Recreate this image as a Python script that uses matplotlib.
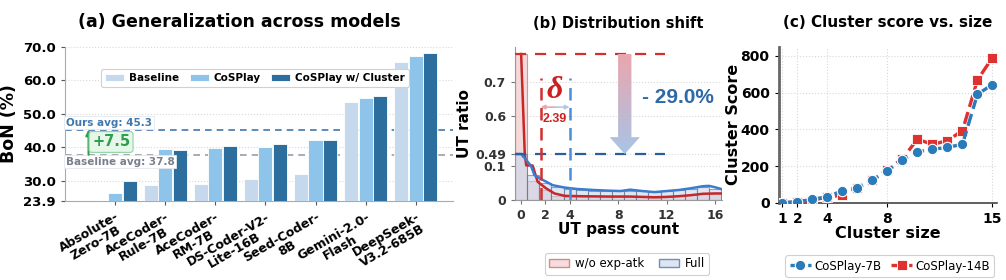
import matplotlib

matplotlib.use("Agg")
import matplotlib.pyplot as plt  # noqa: E402
import numpy as np  # noqa: E402
from matplotlib.colors import LinearSegmentedColormap  # noqa: E402
from matplotlib.patches import Patch, Polygon  # noqa: E402

plt.rcParams.update({
    "font.family": "DejaVu Sans",
    "axes.spines.top": False,
    "axes.spines.right": False,
})

# ---- (a) generalization across models ----
models = ["Absolute-\nZero-7B", "AceCoder-\nRule-7B", "AceCoder-\nRM-7B",
          "DS-Coder-V2-\nLite-16B", "Seed-Coder-\n8B", "Gemini-2.0-\nFlash",
          "DeepSeek-\nV3.2-685B"]
baseline = [24.2, 28.7, 29.0, 30.5, 32.0, 53.6, 65.6]
cosplay = [26.5, 39.5, 39.8, 40.0, 42.1, 54.7, 67.3]
cosplay_cluster = [29.9, 39.2, 40.3, 41.0, 42.1, 55.2, 68.1]
baseline_avg = 37.8
ours_avg = 45.3
a_yticks = [23.9, 30, 40, 50, 60, 70]

# ---- (b) distribution shift ----
bins = np.arange(17)
hist_full = [0.49, 0.072, 0.048, 0.038, 0.031, 0.028, 0.027, 0.026, 0.025,
             0.027, 0.025, 0.023, 0.025, 0.028, 0.033, 0.038, 0.032]
hist_woexp = [0.78, 0.055, 0.028, 0.013, 0.010, 0.010, 0.009, 0.009, 0.009,
              0.009, 0.008, 0.007, 0.009, 0.011, 0.014, 0.018, 0.018]
full_x = [-0.5, 0.0, 0.8, 1.1, 1.8, 2.6, 3.6, 4.6, 6, 7.3, 8.2, 9, 10, 11,
          12, 13, 14, 15, 15.5, 16, 16.6]
full_y = [0.49, 0.49, 0.10, 0.072, 0.058, 0.043, 0.036, 0.032, 0.029, 0.027,
          0.026, 0.030, 0.026, 0.023, 0.026, 0.029, 0.034, 0.040, 0.041,
          0.037, 0.031]
wo_x = [0, 0.3, 0.42, 0.95, 1.36, 2.05, 2.75, 3.6, 5, 7.3, 9, 11, 12, 13,
        14, 15, 16, 16.6]
wo_y = [0.78, 0.49, 0.105, 0.10, 0.053, 0.034, 0.019, 0.012, 0.011, 0.010,
        0.010, 0.008, 0.009, 0.011, 0.014, 0.018, 0.019, 0.019]
peak_wo, peak_full = 0.78, 0.49
mean_wo, mean_full = 1.61, 4.0
b_yticks = [0, 0.1, 0.49, 0.6, 0.7]
b_xticks = [0, 2, 4, 8, 12, 16]

# ---- (c) cluster score vs size ----
sizes = np.arange(1, 16)
score_7b = [0, 5, 18, 33, 65, 82, 124, 175, 233, 278, 291, 302, 318, 591, 644]
score_14b = [0, 4, 15, 30, 42, 80, 122, 180, 240, 346, 318, 338, 393, 669, 791]

C_BASE, C_COS, C_CLU = "#c6d9ec", "#8ec4e9", "#2c6e9e"
RED, BLUE = "#d32f2f", "#2a5f9e"

fig = plt.figure(figsize=(10.06, 2.8), dpi=100)
ax_a = fig.add_axes([0.0646, 0.281, 0.386, 0.552])
ax_b = fig.add_axes([0.512, 0.2857, 0.206, 0.546])
ax_c = fig.add_axes([0.774, 0.276, 0.217, 0.557])

# (a)
x = np.arange(len(models))
w = 0.29
bar_kw = dict(width=w * 0.97, edgecolor="white", linewidth=0.6, zorder=3)
ax_a.bar(x - w, baseline, color=C_BASE, label="Baseline", **bar_kw)
ax_a.bar(x, cosplay, color=C_COS, label="CoSPlay", **bar_kw)
ax_a.bar(x + w, cosplay_cluster, color=C_CLU, label="CoSPlay w/ Cluster", **bar_kw)
ax_a.set_xlim(-1.0, 6.75)
ax_a.set_ylim(a_yticks[0], a_yticks[-1])
ax_a.set_yticks(a_yticks)
ax_a.set_yticklabels([f"{t:.1f}" for t in a_yticks], fontsize=9.5, fontweight="bold")
ax_a.set_xticks(x)
ax_a.set_xticklabels(models, rotation=30, ha="right", rotation_mode="anchor",
                     multialignment="center", fontsize=9, fontweight="bold",
                     linespacing=0.95)
ax_a.grid(axis="y", linestyle=":", color="#d8d8d8", linewidth=0.8, zorder=0)
for s in ("left", "bottom"):
    ax_a.spines[s].set_color("#a3abba")
ax_a.tick_params(colors="#555", labelcolor="black", length=3)
ax_a.set_ylabel("BoN (%)", fontsize=12.5, fontweight="bold")
ax_a.set_title("(a) Generalization across models", fontsize=12.5, fontweight="bold",
               x=0.45, pad=14)
ax_a.axhline(ours_avg, color="#3f78ad", linestyle=(0, (4, 3)), linewidth=1.2, zorder=2)
ax_a.axhline(baseline_avg, color="#9a9ca8", linestyle=(0, (4, 3)), linewidth=1.2, zorder=2)
ax_a.text(-0.98, ours_avg + 0.6, f"Ours avg: {ours_avg}", color="#3f78ad",
          fontsize=7.5, fontweight="bold", va="bottom",
          bbox=dict(boxstyle="square,pad=0.15", fc="white", ec="#e4e8ee", lw=0.6), zorder=4)
ax_a.text(-0.98, baseline_avg - 0.6, f"Baseline avg: {baseline_avg}", color="#7b7f8c",
          fontsize=7.5, fontweight="bold", va="top",
          bbox=dict(boxstyle="square,pad=0.15", fc="white", ec="#e4e8ee", lw=0.6), zorder=4)
ax_a.annotate("", xy=(-0.53, ours_avg), xytext=(-0.53, baseline_avg),
              arrowprops=dict(arrowstyle="-|>", color="#2e9e4f", lw=1.5,
                              mutation_scale=8, shrinkA=0, shrinkB=0), zorder=4)
ax_a.text(-0.08, 41.6, f"+{ours_avg - baseline_avg:.1f}", color="#2e9e4f",
          fontsize=10.5, fontweight="bold", ha="center", va="center",
          bbox=dict(boxstyle="round,pad=0.2", fc="#e6f7ea", ec="#8fd6a3", lw=0.8), zorder=4)
leg = ax_a.legend(loc="upper center", bbox_to_anchor=(0.49, 0.89), ncol=3,
                  prop=dict(weight="bold", size=7.5), handlelength=1.8,
                  columnspacing=1.0, handletextpad=0.5, borderpad=0.4,
                  edgecolor="#d0d0d0", framealpha=1)
leg.get_frame().set_linewidth(0.8)

# (b) piecewise y scale: 0.1..0.49 squeezed
KNOTS = np.array([0.0, 0.1, 0.49, 1.0])
MAPPED = np.array([0.0, 0.1, 0.1333, 0.6433])


def fwd(y):
    y = np.asarray(y, dtype=float)
    return np.where(y < 0, y, np.where(y > 1, y - 1 + MAPPED[-1], np.interp(y, KNOTS, MAPPED)))


def inv(v):
    v = np.asarray(v, dtype=float)
    return np.where(v < 0, v, np.where(v > MAPPED[-1], v - MAPPED[-1] + 1, np.interp(v, MAPPED, KNOTS)))


ax_b.set_yscale("function", functions=(fwd, inv))
ax_b.bar(bins, hist_woexp, width=1.0, color="#f2c9cb", alpha=0.7,
         edgecolor="#b07a80", linewidth=0.8, zorder=2)
ax_b.bar(bins, hist_full, width=1.0, color="#c9d8ec", alpha=0.6,
         edgecolor="#5a6a86", linewidth=0.8, zorder=2)
ax_b.plot(wo_x, wo_y, color="#c62828", lw=1.8, zorder=4)
ax_b.plot(full_x, full_y, color="#3b7bd0", lw=1.8, zorder=4)
ax_b.hlines(peak_wo, -0.5, 11.9, color=RED, linestyles=(0, (5, 4)), lw=1.6, zorder=5)
ax_b.hlines(peak_full, -0.5, 11.9, color=BLUE, linestyles=(0, (5, 4)), lw=1.6, zorder=5)
ax_b.vlines(mean_wo, 0, 0.71, color=RED, linestyles=(0, (5, 3)), lw=1.8, zorder=5)
ax_b.vlines(mean_full, 0, 0.71, color="#4a8fdb", linestyles=(0, (5, 3)), lw=1.8, zorder=5)
mid = (mean_wo + mean_full) / 2
ax_b.annotate("", xy=(mean_wo, 0.626), xytext=(mid, 0.626),
              arrowprops=dict(arrowstyle="-|>", color="#e6a6ae", lw=1.2,
                              mutation_scale=6, shrinkA=0, shrinkB=0), zorder=5)
ax_b.annotate("", xy=(mean_full, 0.626), xytext=(mid, 0.626),
              arrowprops=dict(arrowstyle="-|>", color="#b3c8e8", lw=1.2,
                              mutation_scale=6, shrinkA=0, shrinkB=0), zorder=5)
ax_b.text(2.75, 0.675, "\u03b4", color="#cc1f1f", fontsize=23,
          family=["Liberation Serif", "DejaVu Serif"],
          style="italic", fontweight="bold", ha="center", va="center")
ax_b.text(2.8, 0.592, f"{mean_full - mean_wo:.2f}", color="#cc1f1f", fontsize=9,
          fontweight="bold", family="Liberation Sans", ha="center", va="center")

# gradient arrow from peak_wo down to peak_full
xc, sw, hw = 8.55, 0.55, 1.25
y_head = 0.539
arrow = Polygon([(xc - sw, peak_wo), (xc + sw, peak_wo), (xc + sw, y_head),
                 (xc + hw, y_head), (xc, peak_full), (xc - hw, y_head),
                 (xc - sw, y_head)], closed=True, fc="none", ec="none")
ax_b.add_patch(arrow)
grad = LinearSegmentedColormap.from_list("g", ["#a9c4e6", "#eaa6ae"])
img = ax_b.imshow(np.linspace(0, 1, 100).reshape(-1, 1), cmap=grad, aspect="auto",
                  extent=(xc - hw, xc + hw, peak_full, peak_wo), origin="lower",
                  zorder=6)
img.set_clip_path(arrow)
ax_b.text(12.9, 0.653, f"- {(peak_wo - peak_full) * 100:.1f}%", color="#2e6aa5",
          fontsize=15, fontweight="bold", family="Liberation Sans",
          ha="center", va="center", zorder=7)

ax_b.set_xlim(-0.5, 16.6)
ax_b.set_ylim(0, 0.80)
ax_b.set_yticks(b_yticks)
ax_b.set_yticklabels(["0", "0.1", "0.49", "0.6", "0.7"])
ax_b.set_xticks(b_xticks)
ax_b.tick_params(labelsize=9, labelcolor="#333", colors="#777", length=3)
for lab in ax_b.get_xticklabels() + ax_b.get_yticklabels():
    lab.set_fontweight("bold")
ax_b.yaxis.grid(True, linestyle=":", color="#d8d8d8", lw=0.8, zorder=0)
for s in ("left", "bottom"):
    ax_b.spines[s].set_color("#999")
ax_b.set_xlabel("UT pass count", fontsize=11, fontweight="bold", labelpad=0)
ax_b.set_ylabel("UT ratio", fontsize=11, fontweight="bold", labelpad=2)
ax_b.set_title("(b) Distribution shift", fontsize=10.5, fontweight="bold", pad=14)
handles = [Patch(fc="#f6dcdd", ec="#d08a90", lw=1.0, label="w/o exp-atk"),
           Patch(fc="#dde6f2", ec="#6f8fbf", lw=1.0, label="Full")]
leg_b = ax_b.legend(handles=handles, loc="upper center", bbox_to_anchor=(0.54, -0.31),
                    ncol=2, fontsize=8.5, handlelength=1.7, columnspacing=1.2,
                    handletextpad=0.5, borderpad=0.35, edgecolor="#d0d0d0", framealpha=1)
leg_b.get_frame().set_linewidth(0.8)

# (c)
ax_c.plot(sizes, score_14b, color="#e03131", ls="--", lw=2.4, marker="s",
          ms=7, mec="white", mew=0.6, label="CoSPlay-14B", zorder=3)
ax_c.plot(sizes, score_7b, color="#2b7bba", ls="--", lw=2.4, marker="o",
          ms=7.5, mec="white", mew=0.8, label="CoSPlay-7B", zorder=4)
ax_c.set_xlim(0.75, 15.3)
ax_c.set_ylim(0, 850)
ax_c.set_xticks([1, 2, 4, 8, 15])
ax_c.set_yticks([0, 200, 400, 600, 800])
ax_c.tick_params(labelsize=10, length=3)
for lab in ax_c.get_xticklabels() + ax_c.get_yticklabels():
    lab.set_fontweight("bold")
ax_c.grid(True, linestyle=":", color="#d8d8d8", lw=0.8, zorder=0)
ax_c.spines["left"].set_color("#666")
ax_c.spines["left"].set_linewidth(2.0)
ax_c.spines["bottom"].set_color("#444")
ax_c.spines["bottom"].set_linewidth(1.2)
ax_c.set_xlabel("Cluster size", fontsize=11.5, fontweight="bold", labelpad=0)
ax_c.set_ylabel("Cluster Score", fontsize=11.5, fontweight="bold", labelpad=0)
ax_c.set_title("(c) Cluster score vs. size", fontsize=11, fontweight="bold", pad=14)
h, l = ax_c.get_legend_handles_labels()
leg_c = ax_c.legend(h[::-1], l[::-1], loc="upper center", bbox_to_anchor=(0.51, -0.30),
                    ncol=2, fontsize=8.5, handlelength=1.8, columnspacing=0.8,
                    handletextpad=0.3, borderpad=0.35, edgecolor="#d0d0d0", framealpha=1)
leg_c.get_frame().set_linewidth(0.8)

fig.savefig("out.png", dpi=100)
